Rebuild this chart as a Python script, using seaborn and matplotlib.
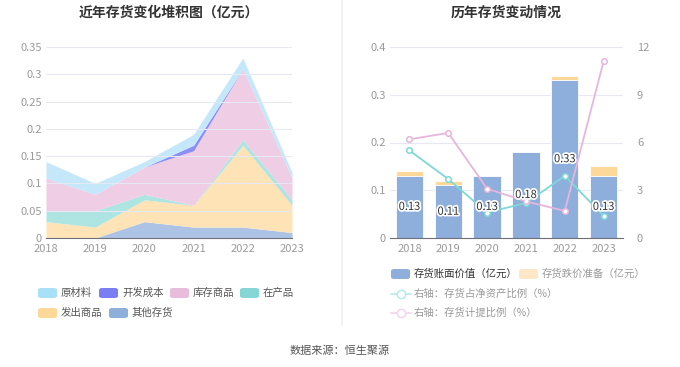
import numpy as np
import pandas as pd
import matplotlib
matplotlib.use('Agg')
import matplotlib.pyplot as plt
import matplotlib.patheffects as pe
from matplotlib.patches import FancyBboxPatch
from matplotlib.lines import Line2D
import seaborn as sns

# data
years = ['2018', '2019', '2020', '2021', '2022', '2023']
year_nums = [2018, 2019, 2020, 2021, 2022, 2023]

# stacked area layers (bottom -> top), 亿元
other_inv = [0.0, 0.0, 0.03, 0.02, 0.02, 0.01]      # 其他存货
shipped = [0.03, 0.02, 0.04, 0.04, 0.15, 0.05]      # 发出商品
wip = [0.02, 0.03, 0.01, 0.0, 0.01, 0.01]           # 在产品
goods = [0.06, 0.03, 0.05, 0.10, 0.13, 0.04]        # 库存商品
dev_cost = [0.0, 0.0, 0.0, 0.01, 0.0, 0.0]          # 开发成本
raw_mat = [0.03, 0.02, 0.01, 0.02, 0.02, 0.01]      # 原材料

# right chart
book_value = [0.13, 0.11, 0.13, 0.18, 0.33, 0.13]   # 存货账面价值
impairment = [0.01, 0.01, 0.0, 0.0, 0.01, 0.02]     # 存货跌价准备
net_asset_ratio = [5.5, 3.7, 1.6, 2.2, 3.9, 1.4]    # 存货占净资产比例 %
provision_ratio = [6.2, 6.6, 3.1, 2.3, 1.7, 11.1]   # 存货计提比例 %

sns.set_theme(style='white')
plt.rcParams['font.family'] = ['Noto Sans CJK SC', 'DejaVu Sans']

W, H = 680, 367
fig = plt.figure(figsize=(6.8, 3.67), dpi=100)


def px_axes(x0, x1, ytop, ybot):
    return fig.add_axes([x0 / W, 1 - ybot / H, (x1 - x0) / W, (ybot - ytop) / H])


tick_color = '#9a9a9a'
grid_color = '#e6e8f4'
axis_color = '#6e7079'

# ---------- left: stacked area ----------
area_colors = ['#adc3e6', '#fde3b6', '#aee4e2', '#efcde4', '#8b8ef5', '#c4e8fa']
ax1 = px_axes(46, 292, 47, 238)
ax1.stackplot(year_nums, other_inv, shipped, wip, goods, dev_cost, raw_mat,
              colors=area_colors, linewidth=0)
ax1.set_xlim(2018, 2023)
ax1.set_ylim(0, 0.35)
ax1.set_yticks([0, 0.05, 0.1, 0.15, 0.2, 0.25, 0.3, 0.35])
ax1.set_yticklabels(['0', '0.05', '0.1', '0.15', '0.2', '0.25', '0.3', '0.35'])
ax1.set_xticks(year_nums)
ax1.set_xticklabels(years)
ax1.grid(axis='y', color=grid_color, linewidth=0.8)
ax1.set_axisbelow(False)
for s in ['top', 'right', 'left']:
    ax1.spines[s].set_visible(False)
ax1.spines['bottom'].set_color(axis_color)
ax1.spines['bottom'].set_linewidth(0.8)
ax1.tick_params(axis='both', colors=tick_color, labelsize=8, length=0, pad=3)
ax1.tick_params(axis='x', length=3, color=axis_color, pad=1)
ax1.set_title('近年存货变化堆积图（亿元）', fontsize=10, fontweight='bold',
              color='#333333', pad=22)

# ---------- right: bars + lines ----------
ax2 = px_axes(390, 623, 47, 238)
df = pd.DataFrame({'year': years, 'book': book_value,
                   'total': np.array(book_value) + np.array(impairment)})
sns.barplot(data=df, x='year', y='total', color='#fdd898', width=0.7,
            saturation=1, edgecolor='white', linewidth=0.6, ax=ax2)
sns.barplot(data=df, x='year', y='book', color='#8eaedb', width=0.7,
            saturation=1, edgecolor='white', linewidth=0.6, ax=ax2)
ax2.set_xlim(-0.5, 5.5)
ax2.set_ylim(0, 0.4)
ax2.set_yticks([0, 0.1, 0.2, 0.3, 0.4])
ax2.set_yticklabels(['0', '0.1', '0.2', '0.3', '0.4'])
ax2.set_xlabel('')
ax2.set_ylabel('')
ax2.grid(axis='y', color=grid_color, linewidth=0.8)
ax2.set_axisbelow(True)
for s in ['top', 'right', 'left']:
    ax2.spines[s].set_visible(False)
ax2.spines['bottom'].set_color(axis_color)
ax2.spines['bottom'].set_linewidth(0.8)
ax2.tick_params(axis='both', colors=tick_color, labelsize=8, length=0, pad=3)
ax2.tick_params(axis='x', length=3, color=axis_color, pad=1)
ax2.set_title('历年存货变动情况', fontsize=10, fontweight='bold',
              color='#333333', pad=22)

ax3 = ax2.twinx()
xs = np.arange(len(years))
sns.lineplot(x=xs, y=net_asset_ratio, color='#7dd8d6', linewidth=1.3,
             marker='o', markersize=4, markerfacecolor='white',
             markeredgecolor='#7dd8d6', markeredgewidth=1.1, ax=ax3)
sns.lineplot(x=xs, y=provision_ratio, color='#e6b6dc', linewidth=1.3,
             marker='o', markersize=4, markerfacecolor='white',
             markeredgecolor='#e6b6dc', markeredgewidth=1.1, ax=ax3)
ax3.set_xlim(-0.5, 5.5)
ax3.set_ylim(0, 12)
ax3.set_yticks([0, 3, 6, 9, 12])
for s in ax3.spines.values():
    s.set_visible(False)
ax3.tick_params(axis='y', colors=tick_color, labelsize=8, length=0, pad=10)
ax3.grid(False)

for i, v in enumerate(book_value):
    ax3.text(i, v / 2 / 0.4 * 12, f'{v:.2f}', ha='center', va='center',
             fontsize=8, color='#333333', zorder=10,
             path_effects=[pe.withStroke(linewidth=2.5, foreground='white')])

# ---------- divider & legends ----------
fig.add_artist(Line2D([341.5 / W, 341.5 / W], [1 - 325 / H, 1], color='#f0f0f0',
                      linewidth=1.2))


def legend_box(x, y, color, label, tcolor='#555555'):
    fig.add_artist(FancyBboxPatch(((x) / W, 1 - (y + 5) / H), 19 / W, 10 / H,
                                  boxstyle='round,pad=0,rounding_size=0.005',
                                  facecolor=color, edgecolor='none',
                                  transform=fig.transFigure))
    fig.text((x + 23) / W, 1 - y / H, label, fontsize=7.5, color=tcolor,
             va='center', ha='left')


def legend_line(x, y, color, label, tcolor='#999999'):
    fig.add_artist(Line2D([x / W, (x + 20) / W], [1 - y / H, 1 - y / H],
                          color=color, linewidth=1.2))
    fig.add_artist(Line2D([(x + 10) / W], [1 - y / H], color=color, marker='o',
                          markersize=6, markerfacecolor='white',
                          markeredgewidth=1.1))
    fig.text((x + 23) / W, 1 - y / H, label, fontsize=7.5, color=tcolor,
             va='center', ha='left')


legend_box(38, 293, '#a8e0f8', '原材料')
legend_box(99, 293, '#7b7ef2', '开发成本')
legend_box(170, 293, '#e8bcdb', '库存商品')
legend_box(240, 293, '#86d6d6', '在产品')
legend_box(38, 313, '#fdd898', '发出商品')
legend_box(109, 313, '#8eaedb', '其他存货')

legend_box(391, 274, '#8eaedb', '存货账面价值（亿元）', tcolor='#333333')
legend_box(519, 274, '#fde7c6', '存货跌价准备（亿元）', tcolor='#999999')
legend_line(391, 294, '#b5ebea', '右轴：存货占净资产比例（%）')
legend_line(391, 313, '#f4d4ea', '右轴：存货计提比例（%）')

fig.text(340 / W, 1 - 351 / H, '数据来源：恒生聚源', fontsize=8, color='#555555',
         ha='center', va='center')

fig.savefig('out.png', dpi=100)
